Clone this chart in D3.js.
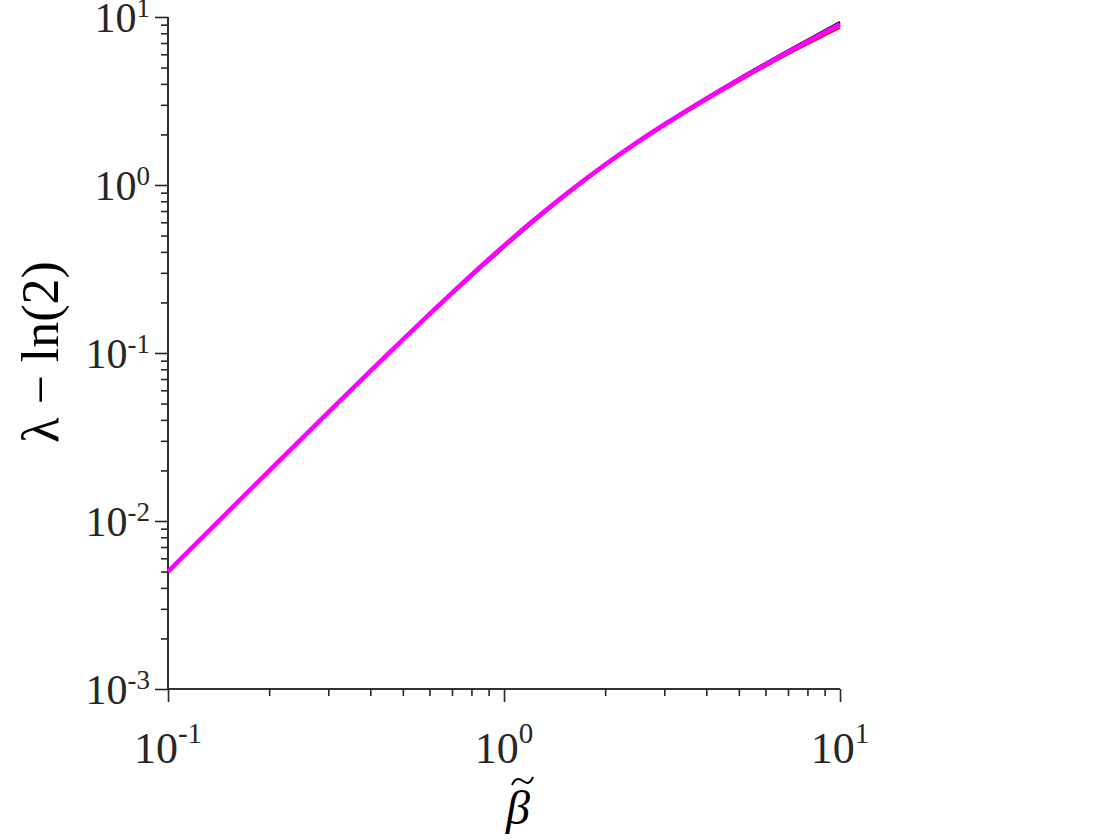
<!DOCTYPE html>
<html>
<head>
<meta charset="utf-8">
<script src="https://cdn.jsdelivr.net/npm/d3@7"></script>
<style>
  body { margin: 0; background: #fff; }
  svg { display: block; font-family: "Liberation Serif", "Times New Roman", serif; }
</style>
</head>
<body>
<div class="svg-container"></div>
<script>
// values
const betaVals = [0.1, 0.15, 0.2, 0.3, 0.4, 0.5, 0.6, 0.7, 0.8, 1, 1.2, 1.5, 2, 2.5, 3, 4, 5, 7, 10];
const blackVals = [0.00499, 0.01121, 0.01987, 0.04434, 0.07795, 0.1201, 0.1701, 0.2273, 0.2908, 0.4338, 0.5937, 0.8554, 1.325, 1.814, 2.309, 3.307, 4.307, 6.307, 9.31];
const blueVals = [0.00499, 0.01120, 0.01983, 0.04410, 0.07720, 0.1185, 0.1672, 0.2228, 0.2845, 0.4230, 0.5800, 0.8380, 1.305, 1.795, 2.290, 3.285, 4.280, 6.260, 9.18];
const redVals = [0.00499, 0.01121, 0.01986, 0.04430, 0.07780, 0.1197, 0.1693, 0.2260, 0.2888, 0.4300, 0.5870, 0.8420, 1.298, 1.768, 2.240, 3.190, 4.130, 5.990, 8.62];
const cyanVals = [0.00499, 0.01121, 0.01986, 0.04432, 0.07788, 0.1199, 0.1697, 0.2266, 0.2897, 0.4318, 0.5900, 0.8480, 1.310, 1.788, 2.268, 3.240, 4.205, 6.120, 8.86];
const magentaVals = [0.00500, 0.01122, 0.01988, 0.04437, 0.07800, 0.1203, 0.1705, 0.2280, 0.2918, 0.4355, 0.5955, 0.8570, 1.324, 1.806, 2.292, 3.270, 4.250, 6.190, 9.05];

const xExps = [-1, 0, 1];
const yExps = [-3, -2, -1, 0, 1];

const series = [
  { vals: blackVals, color: "#000000", w: 2.5 },
  { vals: blueVals, color: "#0000ff", w: 2 },
  { vals: redVals, color: "#ff0000", w: 2 },
  { vals: cyanVals, color: "#2ab5b0", w: 1.5 },
  { vals: magentaVals, color: "#ff00ff", w: 4.5 }
];

const width = 1120, height = 840;
const plotLeft = 168, plotRight = 840, plotTop = 17, plotBottom = 689;

const svg = d3.select(".svg-container").append("svg")
  .attr("width", width)
  .attr("height", height);

const x = d3.scaleLog().domain([0.1, 10]).range([plotLeft, plotRight]);
const y = d3.scaleLog().domain([1e-3, 10]).range([plotBottom, plotTop]);

// minor tick values
const xMinor = [], yMinor = [];
[-1, 0].forEach(e => { for (let k = 2; k <= 9; k++) xMinor.push(k * Math.pow(10, e)); });
[-3, -2, -1, 0].forEach(e => { for (let k = 2; k <= 9; k++) yMinor.push(k * Math.pow(10, e)); });

const axisColor = "#262626";

// x axis
const xAxisMajor = d3.axisBottom(x).tickValues(xExps.map(e => Math.pow(10, e))).tickSize(13).tickFormat("");
const xAxisMinor = d3.axisBottom(x).tickValues(xMinor).tickSize(7).tickFormat("");
[xAxisMinor, xAxisMajor].forEach(ax => {
  svg.append("g")
    .attr("transform", "translate(0," + plotBottom + ")")
    .call(ax)
    .call(g => g.selectAll("line").attr("stroke", axisColor).attr("stroke-width", 1.6))
    .call(g => g.select(".domain").attr("stroke", axisColor).attr("stroke-width", 1.6).attr("d", "M" + plotLeft + ",0H" + plotRight));
});

// y axis
const yAxisMajor = d3.axisLeft(y).tickValues(yExps.map(e => Math.pow(10, e))).tickSize(13).tickFormat("");
const yAxisMinor = d3.axisLeft(y).tickValues(yMinor).tickSize(7).tickFormat("");
[yAxisMinor, yAxisMajor].forEach(ax => {
  svg.append("g")
    .attr("transform", "translate(" + plotLeft + ",0)")
    .call(ax)
    .call(g => g.selectAll("line").attr("stroke", axisColor).attr("stroke-width", 1.6))
    .call(g => g.select(".domain").attr("stroke", axisColor).attr("stroke-width", 1.6).attr("d", "M0," + plotTop + "V" + plotBottom));
});

// tick labels
xExps.forEach(e => {
  const t = svg.append("text")
    .attr("x", x(Math.pow(10, e)))
    .attr("y", 763)
    .attr("text-anchor", "middle")
    .attr("fill", "#262626")
    .style("font-size", "44px");
  t.append("tspan").text("10");
  t.append("tspan").attr("dy", -20).style("font-size", "29px").text(e < 0 ? "-" + (-e) : e);
});

yExps.forEach(e => {
  const t = svg.append("text")
    .attr("x", 150)
    .attr("y", y(Math.pow(10, e)) + 15)
    .attr("text-anchor", "end")
    .attr("fill", "#262626")
    .style("font-size", "42px");
  t.append("tspan").text("10");
  t.append("tspan").attr("dy", -15).style("font-size", "27px").text(e < 0 ? "-" + (-e) : e);
});

// axis titles
svg.append("text")
  .attr("transform", "translate(58,352) rotate(-90)")
  .attr("text-anchor", "middle")
  .attr("fill", "#000")
  .style("font-size", "52px")
  .text("λ − ln(2)");

svg.append("text")
  .attr("x", 518)
  .attr("y", 824)
  .attr("text-anchor", "middle")
  .style("font-size", "48px")
  .style("font-style", "italic")
  .text("β");
// tilde accent over beta
svg.append("path")
  .attr("d", "M512,785 C515,778 519,778 523,781 C527,784 530,784 533,777")
  .attr("fill", "none")
  .attr("stroke", "#000")
  .attr("stroke-width", 2);

// curves
const line = d3.line()
  .x(d => x(d[0]))
  .y(d => y(d[1]))
  .curve(d3.curveMonotoneX);

series.forEach(s => {
  svg.append("path")
    .datum(betaVals.map((b, i) => [b, s.vals[i]]))
    .attr("fill", "none")
    .attr("stroke", s.color)
    .attr("stroke-width", s.w)
    .attr("d", line);
});
</script>
</body>
</html>
